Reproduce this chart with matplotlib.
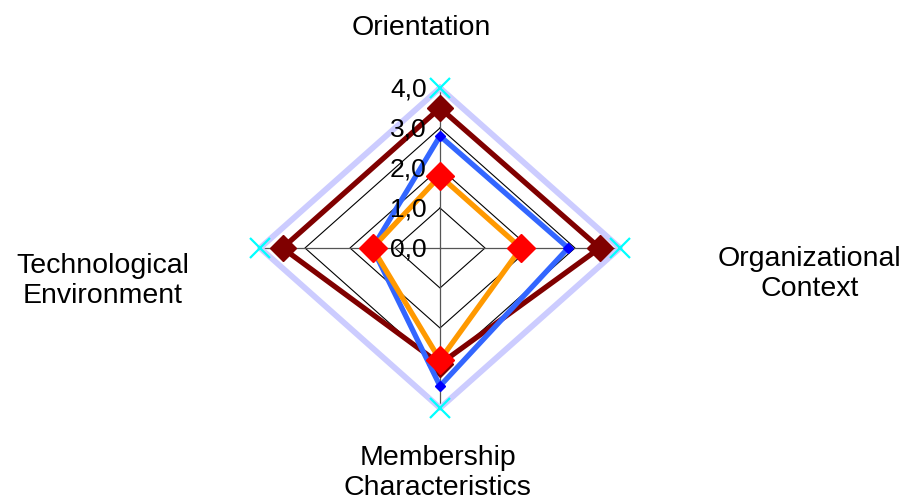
import numpy as np
import matplotlib.pyplot as plt

plt.rcParams['font.family'] = ['Liberation Sans', 'DejaVu Sans']

# Radar axes (clockwise from top)
categories = ["Orientation", "Organizational\nContext", "Membership\nCharacteristics", "Technological\nEnvironment"]
tick_values = [0, 1, 2, 3, 4]
tick_labels = ["0,0", "1,0", "2,0", "3,0", "4,0"]

# Series values in category order
max_vals = [4.0, 4.0, 4.0, 4.0]
maroon_vals = [3.5, 3.55, 2.9, 3.5]
blue_vals = [2.8, 2.85, 3.45, 1.5]
orange_vals = [1.8, 1.8, 2.8, 1.5]

angles = np.deg2rad([90, 0, -90, 180])


def to_xy(vals):
    v = np.append(vals, vals[0])
    a = np.append(angles, angles[0])
    return v * np.cos(a), v * np.sin(a)


fig = plt.figure(figsize=(9.08, 5.04), dpi=100)
ax = fig.add_axes([0, 0, 1, 1])
# 45 px per unit horizontally, 40 px per unit vertically, centre at (440, 248)
ax.set_xlim(-440 / 45, (908 - 440) / 45)
ax.set_ylim(-(504 - 248) / 40, 248 / 40)
ax.axis("off")

# grid rings
for t in tick_values[1:]:
    gx, gy = to_xy([t] * 4)
    ax.plot(gx, gy, color="black", lw=0.8, zorder=1)
# spokes
for a in angles:
    ax.plot([0, 4 * np.cos(a)], [0, 4 * np.sin(a)], color="#555555", lw=0.9, zorder=1)

x, y = to_xy(max_vals)
ax.plot(x, y, color="#CCCCFF", lw=4.2, zorder=2)
ax.plot(x[:-1], y[:-1], "x", color="#00FFFF", ms=15, mew=1.6, zorder=6)

x, y = to_xy(maroon_vals)
ax.plot(x, y, color="#800000", lw=3.8, zorder=3)
ax.plot(x[:-1], y[:-1], "D", color="#800000", ms=13, zorder=3)

x, y = to_xy(blue_vals)
ax.plot(x, y, color="#3366FF", lw=3.8, zorder=4)
ax.plot(x[:-1], y[:-1], "D", color="#0000FF", ms=5.5, zorder=4)

x, y = to_xy(orange_vals)
ax.plot(x, y, color="#FF9900", lw=3.8, zorder=5)
ax.plot(x[:-1], y[:-1], "D", color="#FF0000", ms=14, zorder=7)

# tick labels along the top spoke
for t, lab in zip(tick_values, tick_labels):
    ax.text(-0.3, t - 0.05, lab, ha="right", va="center", fontsize=19, zorder=8)

# category labels: top, right, bottom, left
label_pos = [(-0.42, 5.5), (8.22, -0.65), (-0.05, -5.62), (-7.5, -0.82)]
for (lx, ly), lab in zip(label_pos, categories):
    ax.text(lx, ly, lab, ha="center", va="center", fontsize=20.5, linespacing=1.2)

fig.savefig("out.png", dpi=100)
